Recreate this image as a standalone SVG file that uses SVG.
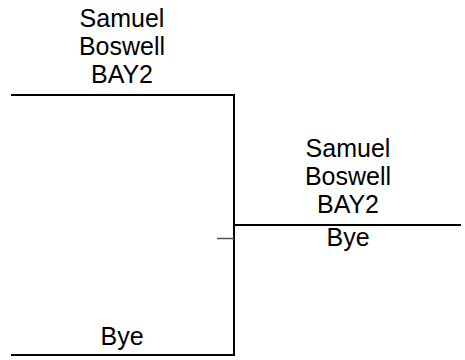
<svg xmlns="http://www.w3.org/2000/svg" width="465" height="360" viewBox="0 0 465 360">
<style>
text{font-family:"Liberation Sans",Arial,sans-serif;font-size:25px;fill:#000;text-anchor:middle}
.ln{stroke:#000;stroke-width:2;fill:none}
.tick{stroke:#555;stroke-width:1.5;fill:none}
</style>
<rect width="465" height="360" fill="#fff"/>
<g id="connectors">
<path class="ln" d="M11,95 H234 V355 H11"/>
<path class="ln" d="M234,225 H461"/>
<path class="tick" d="M217,238.5 H234"/>
</g>
<g id="node-top">
<text x="122" y="27">Samuel</text>
<text x="122" y="55">Boswell</text>
<text x="122" y="83">BAY2</text>
</g>
<g id="node-bottom">
<text x="122" y="345">Bye</text>
</g>
<g id="node-winner">
<text x="348" y="157">Samuel</text>
<text x="348" y="185">Boswell</text>
<text x="348" y="213">BAY2</text>
<text x="348" y="246">Bye</text>
</g>
</svg>
